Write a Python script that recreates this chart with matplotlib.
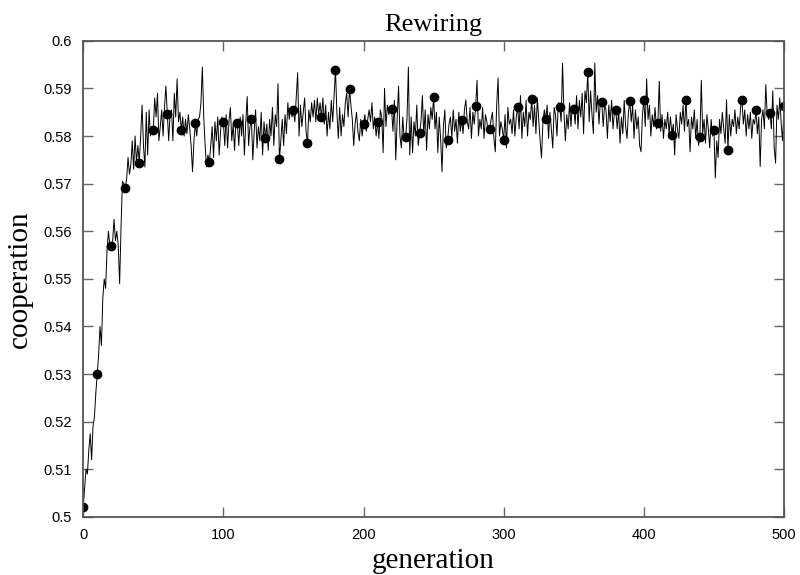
import numpy as np
import matplotlib
matplotlib.use("Agg")
import matplotlib.pyplot as plt

# cooperation level per generation (10 values per row)
coop = [
    0.502, 0.506, 0.510, 0.509, 0.514, 0.5175, 0.512, 0.519, 0.521, 0.526,
    0.530, 0.534, 0.540, 0.536, 0.546, 0.550, 0.548, 0.556, 0.560, 0.557,
    0.557, 0.558, 0.5625, 0.558, 0.560, 0.557, 0.549, 0.561, 0.5705, 0.570,
    0.569, 0.571, 0.5755, 0.572, 0.574, 0.579, 0.573, 0.580, 0.5745, 0.578,
    0.5744, 0.580, 0.5865, 0.578, 0.5735, 0.585, 0.576, 0.5855, 0.580, 0.582,
    0.5812, 0.588, 0.584, 0.589, 0.579, 0.582, 0.5855, 0.580, 0.586, 0.5905,
    0.5847, 0.579, 0.585, 0.5855, 0.579, 0.589, 0.584, 0.592, 0.583, 0.585,
    0.5812, 0.584, 0.580, 0.5835, 0.5805, 0.5845, 0.5815, 0.578, 0.5725, 0.579,
    0.5827, 0.580, 0.5835, 0.584, 0.587, 0.5945, 0.584, 0.578, 0.5735, 0.576,
    0.5745, 0.578, 0.582, 0.5755, 0.583, 0.579, 0.584, 0.576, 0.581, 0.584,
    0.5829, 0.578, 0.5845, 0.5775, 0.583, 0.586, 0.579, 0.5825, 0.577, 0.5835,
    0.5827, 0.578, 0.584, 0.580, 0.5845, 0.576, 0.583, 0.5883, 0.578, 0.582,
    0.5836, 0.575, 0.581, 0.5855, 0.5775, 0.582, 0.579, 0.585, 0.576, 0.583,
    0.5796, 0.5825, 0.577, 0.5835, 0.580, 0.586, 0.578, 0.5845, 0.582, 0.591,
    0.5751, 0.579, 0.5835, 0.578, 0.5845, 0.5805, 0.587, 0.5835, 0.586, 0.584,
    0.5855, 0.583, 0.588, 0.5933, 0.580, 0.5865, 0.582, 0.585, 0.588, 0.581,
    0.5785, 0.5855, 0.583, 0.587, 0.584, 0.5875, 0.583, 0.588, 0.5845, 0.587,
    0.5839, 0.588, 0.5825, 0.5865, 0.580, 0.585, 0.5815, 0.5875, 0.583, 0.5885,
    0.5939, 0.585, 0.5795, 0.586, 0.580, 0.5845, 0.582, 0.587, 0.589, 0.584,
    0.5899, 0.5865, 0.5835, 0.578, 0.5825, 0.585, 0.581, 0.579, 0.5835, 0.580,
    0.5826, 0.5845, 0.581, 0.5835, 0.5855, 0.583, 0.587, 0.5815, 0.584, 0.580,
    0.5829, 0.5795, 0.5855, 0.584, 0.5765, 0.590, 0.582, 0.5865, 0.5845, 0.586,
    0.5857, 0.581, 0.5875, 0.575, 0.5835, 0.5905, 0.580, 0.5775, 0.584, 0.579,
    0.5798, 0.5835, 0.5945, 0.576, 0.584, 0.5765, 0.583, 0.580, 0.5865, 0.578,
    0.5806, 0.583, 0.5885, 0.580, 0.5855, 0.577, 0.5845, 0.5815, 0.586, 0.5835,
    0.5883, 0.5815, 0.585, 0.5765, 0.584, 0.5795, 0.5725, 0.582, 0.5855, 0.5775,
    0.5791, 0.5825, 0.584, 0.5795, 0.5855, 0.581, 0.5835, 0.5785, 0.585, 0.581,
    0.5833, 0.5805, 0.5855, 0.5876, 0.583, 0.5815, 0.586, 0.5795, 0.585, 0.5825,
    0.5863, 0.5917, 0.580, 0.5835, 0.5815, 0.586, 0.5795, 0.5845, 0.583, 0.5805,
    0.5815, 0.5835, 0.585, 0.5795, 0.5767, 0.5865, 0.5922, 0.580, 0.583, 0.5815,
    0.5792, 0.5845, 0.5775, 0.586, 0.5825, 0.5835, 0.5805, 0.5855, 0.580, 0.584,
    0.5861, 0.5815, 0.5885, 0.5795, 0.585, 0.582, 0.5875, 0.580, 0.585, 0.5835,
    0.5878, 0.582, 0.5865, 0.5805, 0.588, 0.5835, 0.579, 0.5754, 0.583, 0.5855,
    0.5835, 0.5865, 0.5795, 0.585, 0.5815, 0.5775, 0.586, 0.5845, 0.580, 0.587,
    0.5861, 0.583, 0.5953, 0.585, 0.579, 0.5845, 0.5815, 0.587, 0.582, 0.5865,
    0.5857, 0.5825, 0.5885, 0.5815, 0.5875, 0.584, 0.589, 0.5805, 0.5895, 0.587,
    0.5935, 0.583, 0.5895, 0.5845, 0.5805, 0.5953, 0.585, 0.5885, 0.5825, 0.5875,
    0.5871, 0.582, 0.5865, 0.5855, 0.5795, 0.5865, 0.583, 0.5875, 0.5815, 0.585,
    0.5854, 0.5815, 0.5855, 0.5785, 0.584, 0.5805, 0.5875, 0.582, 0.5795, 0.585,
    0.5873, 0.583, 0.5865, 0.5795, 0.5855, 0.5815, 0.584, 0.578, 0.5767, 0.5845,
    0.5876, 0.582, 0.592, 0.5835, 0.5865, 0.580, 0.5845, 0.582, 0.586, 0.5815,
    0.5827, 0.5915, 0.581, 0.5845, 0.5795, 0.5835, 0.5815, 0.585, 0.5805, 0.584,
    0.5803, 0.5825, 0.576, 0.5845, 0.5815, 0.5795, 0.585, 0.5825, 0.5865, 0.581,
    0.5876, 0.582, 0.5835, 0.5767, 0.584, 0.5815, 0.5855, 0.5795, 0.5835, 0.578,
    0.5798, 0.5917, 0.5805, 0.5835, 0.5785, 0.5845, 0.5815, 0.5775, 0.5835, 0.580,
    0.5813, 0.5712, 0.579, 0.5755, 0.5835, 0.5805, 0.585, 0.5815, 0.5785, 0.5876,
    0.5771, 0.5845, 0.580, 0.5835, 0.582, 0.5855, 0.5805, 0.584, 0.5815, 0.586,
    0.5876, 0.5825, 0.5855, 0.580, 0.5845, 0.5815, 0.585, 0.5795, 0.5835, 0.5825,
    0.5854, 0.5805, 0.584, 0.5736, 0.5835, 0.5855, 0.5815, 0.5908, 0.5845, 0.5835,
    0.5848, 0.5815, 0.5895, 0.5775, 0.5743, 0.5865, 0.5835, 0.588, 0.5825, 0.579,
    0.5864,
]
generation = np.arange(len(coop))
coop = np.array(coop)

# markers every 10 generations
mark_every = 10

fig = plt.figure(figsize=(8, 5.75), dpi=100)
ax = fig.add_axes([0.104, 0.101, 0.876, 0.828])

ax.plot(generation, coop, '-', color='black', linewidth=0.7)
ax.plot(generation[::mark_every], coop[::mark_every], 'o', color='black', markersize=6)

ax.set_xlim(0, 500)
ax.set_ylim(0.5, 0.6)
ax.set_xticks([0, 100, 200, 300, 400, 500])
ax.set_yticks(np.arange(0.5, 0.6001, 0.01))
ax.set_yticklabels(['0.5', '0.51', '0.52', '0.53', '0.54', '0.55',
                    '0.56', '0.57', '0.58', '0.59', '0.6'])

for s in ax.spines.values():
    s.set_color('#555555')
    s.set_linewidth(1.3)
ax.tick_params(direction='in', top=True, right=True, length=7, width=1,
               color='#666666', pad=8, labelsize=10.5)
for lab in ax.get_xticklabels() + ax.get_yticklabels():
    lab.set_family('Liberation Sans')

ax.set_title('Rewiring', family='Liberation Serif', fontsize=19, pad=7)
ax.set_xlabel('generation', family='Liberation Serif', fontsize=21, labelpad=4)
ax.set_ylabel('cooperation', family='Liberation Serif', fontsize=21, labelpad=8)

fig.savefig('out.png', dpi=100)
